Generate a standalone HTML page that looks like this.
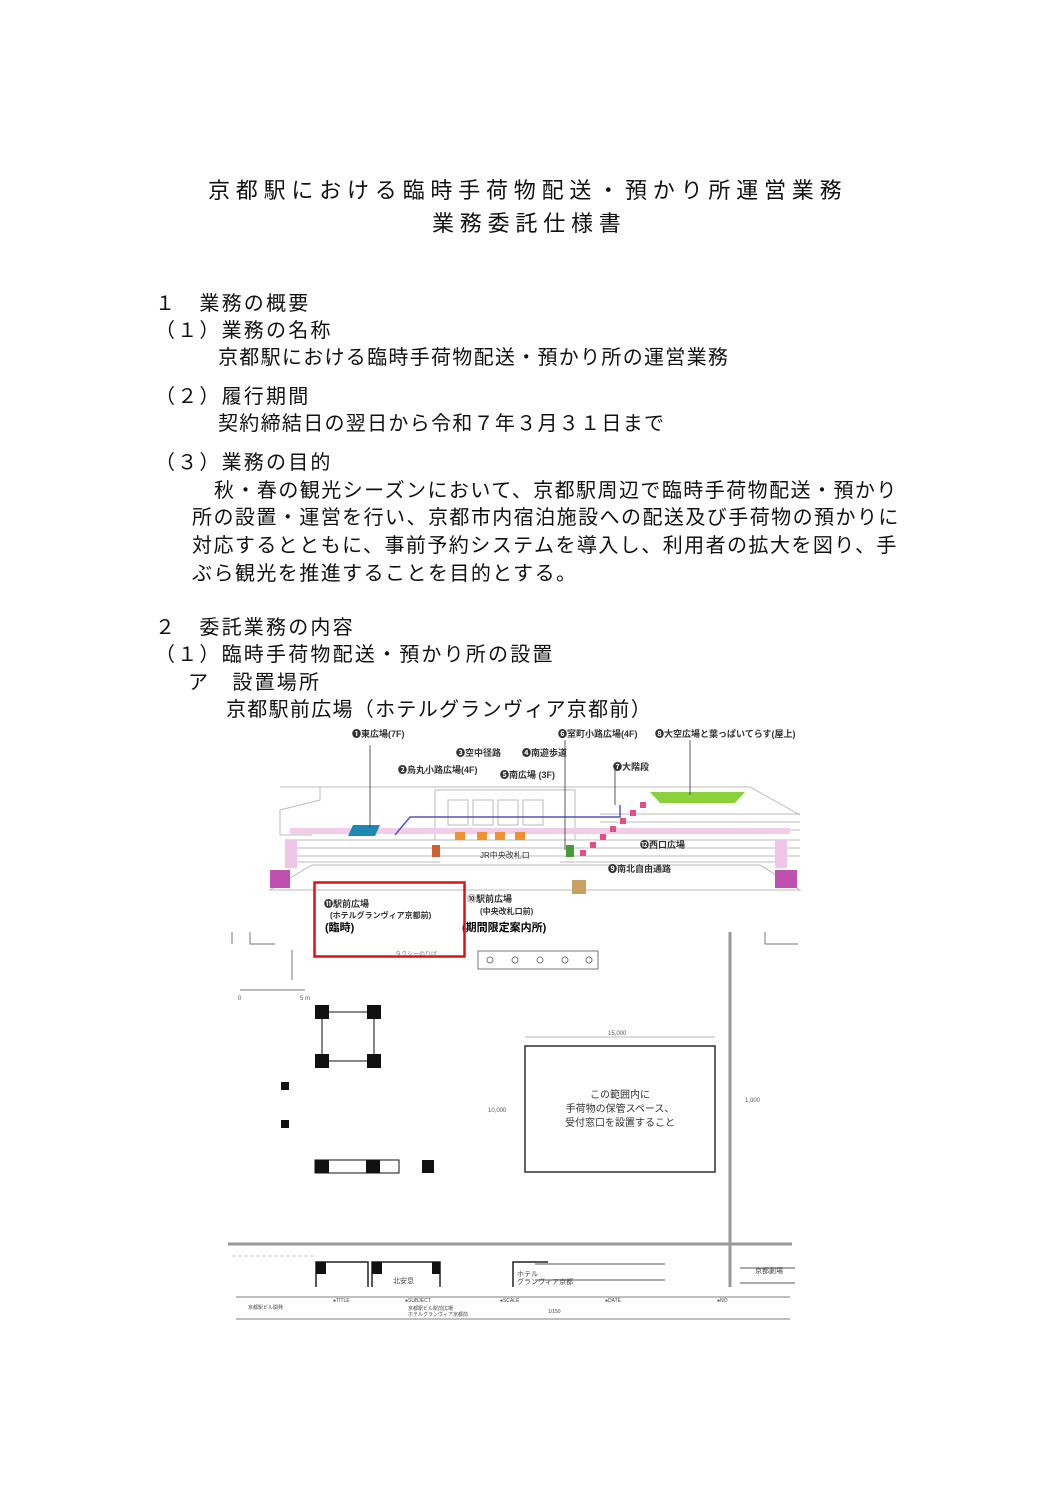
<!DOCTYPE html>
<html><head><meta charset="utf-8"><style>
body{margin:0;background:#fff;}
#p{position:relative;width:1059px;height:1498px;overflow:hidden;font-family:"Liberation Sans","Noto Sans CJK JP",sans-serif;color:#111;}
.t{position:absolute;white-space:nowrap;font-size:20px;line-height:20px;letter-spacing:1.3px;}
.h{font-size:20px;letter-spacing:2.2px;}
.ti{font-size:22px;letter-spacing:5.8px;}
svg{position:absolute;left:0;top:0;}
svg text{font-family:"Liberation Sans","Noto Sans CJK JP",sans-serif;}
</style></head><body><div id="p">
<div class="t ti" style="left:208px;top:181px">京都駅における臨時手荷物配送・預かり所運営業務</div>
<div class="t ti" style="left:432px;top:214px">業務委託仕様書</div>
<div class="t h" style="left:155px;top:294px">１　業務の概要</div>
<div class="t h" style="left:155px;top:321px">（１）業務の名称</div>
<div class="t" style="left:218px;top:348px">京都駅における臨時手荷物配送・預かり所の運営業務</div>
<div class="t h" style="left:155px;top:387px">（２）履行期間</div>
<div class="t" style="left:218px;top:414px">契約締結日の翌日から令和７年３月３１日まで</div>
<div class="t h" style="left:155px;top:453px">（３）業務の目的</div>
<div class="t" style="left:214px;top:481px;letter-spacing:1.45px">秋・春の観光シーズンにおいて、京都駅周辺で臨時手荷物配送・預かり</div>
<div class="t" style="left:192px;top:508px;letter-spacing:1.45px">所の設置・運営を行い、京都市内宿泊施設への配送及び手荷物の預かりに</div>
<div class="t" style="left:192px;top:536px;letter-spacing:1.45px">対応するとともに、事前予約システムを導入し、利用者の拡大を図り、手</div>
<div class="t" style="left:192px;top:564px;letter-spacing:1.45px">ぶら観光を推進することを目的とする。</div>
<div class="t h" style="left:155px;top:618px">２　委託業務の内容</div>
<div class="t h" style="left:155px;top:645px">（１）臨時手荷物配送・預かり所の設置</div>
<div class="t h" style="left:188px;top:673px">ア　設置場所</div>
<div class="t" style="left:226px;top:700px">京都駅前広場（ホテルグランヴィア京都前）</div>
<svg width="1059" height="1498" viewBox="0 0 1059 1498">
<g fill="none" stroke="#bbb" stroke-width="1">
<polygon points="270,890 800,890 760,865 312,865"/>
<polyline points="280,787 320,787 320,800 280,810 280,835 312,835"/>
<path d="M280,787 L700,787 L750,787 L800,815"/>
<line x1="285" y1="840" x2="800" y2="840"/><line x1="285" y1="848" x2="800" y2="848"/>
<line x1="285" y1="856" x2="800" y2="856"/><line x1="600" y1="830" x2="800" y2="830"/>
<line x1="600" y1="822" x2="800" y2="822"/><line x1="600" y1="814" x2="800" y2="814"/>
<rect x="435" y="790" width="140" height="50"/>
<rect x="448" y="800" width="20" height="25"/><rect x="473" y="800" width="20" height="25"/><rect x="498" y="800" width="20" height="25"/><rect x="523" y="800" width="20" height="25"/>
<line x1="285" y1="862" x2="440" y2="862"/><line x1="560" y1="862" x2="780" y2="862"/>
</g>
<rect x="290" y="828" width="500" height="6" fill="#f3cde8"/>
<rect x="270" y="870" width="20" height="18" fill="#c050b0"/><rect x="775" y="870" width="22" height="18" fill="#c050b0"/>
<rect x="285" y="840" width="12" height="28" fill="#f0c4e4"/><rect x="775" y="840" width="12" height="28" fill="#f0c4e4"/>
<polygon points="348,836 375,836 380,825 353,825" fill="#1a8ab0"/>
<polygon points="650,792 745,792 735,803 660,803" fill="#8bd13c"/>
<polyline points="395,835 410,817 568,817 620,817 620,805" fill="none" stroke="#5555bb" stroke-width="1.5"/>
<g fill="#f09030"><rect x="455" y="832" width="10" height="8"/><rect x="477" y="832" width="10" height="8"/><rect x="495" y="832" width="10" height="8"/><rect x="515" y="832" width="10" height="8"/></g>
<rect x="432" y="845" width="8" height="12" fill="#d06030"/>
<rect x="566" y="845" width="8" height="12" fill="#4a9a3a"/>
<g fill="#e0508a"><rect x="580" y="850" width="6" height="6"/><rect x="590" y="842" width="6" height="6"/><rect x="600" y="834" width="6" height="6"/><rect x="610" y="826" width="6" height="6"/><rect x="620" y="818" width="6" height="6"/><rect x="630" y="810" width="6" height="6"/><rect x="640" y="802" width="6" height="6"/></g>
<rect x="572" y="880" width="14" height="14" fill="#c8a060"/>
<g stroke="#333" stroke-width="0.8"><line x1="370" y1="745" x2="370" y2="828"/><line x1="615" y1="770" x2="615" y2="805"/><line x1="690" y1="740" x2="690" y2="795"/><line x1="565" y1="740" x2="565" y2="850"/></g>
<g font-size="9" font-weight="bold" fill="#333">
<text x="352" y="737">❶東広場(7F)</text><text x="456" y="756">❸空中径路</text><text x="522" y="756">❹南遊歩道</text>
<text x="398" y="773">❷烏丸小路広場(4F)</text><text x="500" y="778">❺南広場 (3F)</text>
<text x="558" y="737">❻室町小路広場(4F)</text><text x="655" y="737">❽大空広場と葉っぱいてらす(屋上)</text>
<text x="613" y="770">❼大階段</text><text x="640" y="848">⓬西口広場</text><text x="608" y="872">❾南北自由通路</text>
<text x="324" y="907">⓫駅前広場</text><text x="330" y="918" font-size="8">(ホテルグランヴィア京都前)</text>
<text x="467" y="902">⓾駅前広場</text><text x="480" y="914" font-size="8">(中央改札口前)</text>
<text x="480" y="858" font-size="8" font-weight="normal">JR中央改札口</text>
</g>
<text x="325" y="931" font-size="11" font-weight="bold">(臨時)</text>
<text x="462" y="931" font-size="11" font-weight="bold">(期間限定案内所)</text>
<rect x="314.5" y="882.5" width="150" height="74" fill="none" stroke="#e01010" stroke-width="2.5"/>
<g fill="none" stroke="#777"><line x1="232" y1="932" x2="232" y2="944"/><polyline points="250,932 250,944 275,944"/><polyline points="765,932 765,944 798,944"/>
<rect x="478" y="951" width="120" height="18"/><circle cx="490" cy="960" r="3"/><circle cx="515" cy="960" r="3"/><circle cx="540" cy="960" r="3"/><circle cx="565" cy="960" r="3"/><circle cx="589" cy="960" r="3"/>
<line x1="240" y1="990" x2="305" y2="990"/><line x1="292" y1="950" x2="292" y2="980"/></g>
<text x="395" y="956" font-size="6" fill="#777">タクシーのりば</text>
<g fill="#111"><rect x="315" y="1005" width="14" height="14"/><rect x="367" y="1005" width="14" height="14"/><rect x="315" y="1054" width="14" height="14"/><rect x="367" y="1054" width="14" height="14"/>
<rect x="281" y="1082" width="8" height="8"/><rect x="281" y="1120" width="8" height="8"/>
<rect x="315" y="1160" width="14" height="13"/><rect x="366" y="1160" width="14" height="13"/><rect x="422" y="1160" width="12" height="13"/></g>
<g fill="none" stroke="#111"><line x1="322" y1="1012" x2="374" y2="1012"/><line x1="322" y1="1012" x2="322" y2="1061"/><line x1="374" y1="1012" x2="374" y2="1061"/><line x1="322" y1="1061" x2="374" y2="1061"/>
<rect x="315" y="1160" width="84" height="13"/>
<rect x="525" y="1046" width="190" height="126" stroke-width="1.3"/></g>
<line x1="525" y1="1037" x2="715" y2="1037" stroke="#777" stroke-width="0.6"/>
<line x1="730" y1="932" x2="730" y2="1287" stroke="#999" stroke-width="3"/>
<line x1="228" y1="1244" x2="792" y2="1244" stroke="#999" stroke-width="3"/>
<g font-size="10" fill="#333" text-anchor="middle"><text x="620" y="1098">この範囲内に</text><text x="620" y="1112">手荷物の保管スペース、</text><text x="620" y="1126">受付窓口を設置すること</text></g>
<g font-size="6" fill="#555"><text x="608" y="1035">15,000</text><text x="488" y="1112">10,000</text><text x="745" y="1102">1,000</text><text x="238" y="1000">0</text><text x="300" y="1000">5 m</text></g>
<g fill="none" stroke="#222" stroke-width="1.5"><polyline points="316,1287 316,1262 368,1262 368,1287"/><polyline points="372,1287 372,1262 440,1262 440,1287"/><polyline points="513,1287 513,1262 548,1262"/></g>
<rect x="316" y="1262" width="10" height="12" fill="#111"/><rect x="372" y="1262" width="10" height="12" fill="#111"/><rect x="432" y="1262" width="8" height="12" fill="#111"/>
<g stroke="#aaa" stroke-width="2"><line x1="535" y1="1264" x2="665" y2="1264"/><line x1="535" y1="1280" x2="665" y2="1280"/><line x1="740" y1="1268" x2="795" y2="1268"/><line x1="740" y1="1283" x2="795" y2="1283"/></g>
<line x1="232" y1="1256" x2="316" y2="1256" stroke="#999" stroke-dasharray="4,2" stroke-width="0.6"/>
<g font-size="7" fill="#444"><text x="393" y="1283">北安息</text><text x="517" y="1276">ホテル</text><text x="517" y="1284">グランヴィア京都</text><text x="755" y="1273">京都劇場</text></g>
<line x1="236" y1="1297" x2="790" y2="1297" stroke="#555" stroke-width="0.8"/>
<line x1="236" y1="1319" x2="790" y2="1319" stroke="#555" stroke-width="0.8"/>
<g font-size="5" fill="#444"><text x="248" y="1309">京都駅ビル開発</text><text x="333" y="1302">●TITLE</text><text x="405" y="1302">●SUBJECT</text><text x="408" y="1310">京都駅ビル駅前広場</text><text x="408" y="1316">ホテルグランヴィア京都前</text><text x="500" y="1302">●SCALE</text><text x="548" y="1313">1/150</text><text x="605" y="1302">●DATE</text><text x="717" y="1302">●NO</text></g>
</svg>
</div></body></html>
